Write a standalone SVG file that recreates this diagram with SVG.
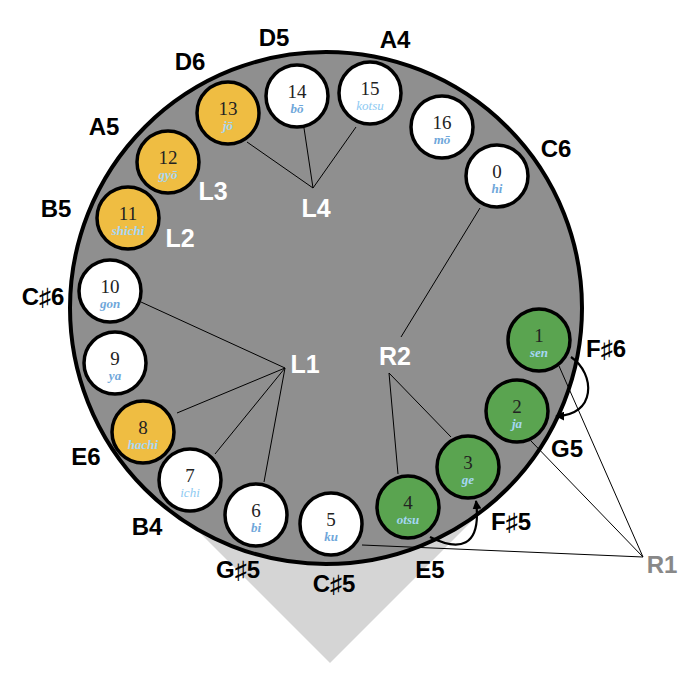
<svg xmlns="http://www.w3.org/2000/svg" width="700" height="680" viewBox="0 0 700 680">
<style>
.bg{fill:#ffffff}
.tri{fill:#d5d5d5}
.big{fill:#8f8f8f;stroke:#000;stroke-width:4}
.n circle{stroke:#000;stroke-width:3.5}
.w{fill:#ffffff}
.o{fill:#efbd42}
.g{fill:#5aa450}
.num{font-family:"Liberation Serif","Times New Roman",serif;font-size:19px;fill:#222;text-anchor:middle}
.rom{font-family:"Liberation Serif","Times New Roman",serif;font-size:13px;font-style:italic;font-weight:bold;fill:#6fa7da;text-anchor:middle}
.rl{fill:#8ecaf2;font-weight:normal}
.rc{fill:#a6d7f4}
.note{font-family:"Liberation Sans",Arial,"DejaVu Sans",sans-serif;font-size:24px;font-weight:bold;fill:#000;text-anchor:middle}
.lab{font-family:"Liberation Sans",Arial,"DejaVu Sans",sans-serif;font-size:25px;font-weight:bold;fill:#fff;text-anchor:middle}
.r1{fill:#888}
.c line,.c path{stroke:#000;stroke-width:1;fill:none}
.c .arc{stroke-width:2.2}
</style>
<defs>
<marker id="ah" viewBox="0 0 10 10" refX="9" refY="5" markerWidth="9" markerHeight="9" markerUnits="userSpaceOnUse" orient="auto">
<path d="M0,0 L10,5 L0,10 z" fill="#000"/>
</marker>
</defs>
<rect class="bg" x="0" y="0" width="700" height="680"/>
<polygon class="tri" points="185,518 330,663 475,518"/>
<circle class="big" cx="326" cy="308" r="256"/>

<g id="connectors" class="c">
<line x1="313" y1="188" x2="247" y2="142"/>
<line x1="313" y1="188" x2="304" y2="128"/>
<line x1="313" y1="188" x2="356" y2="127"/>
<line x1="285" y1="368" x2="141" y2="302"/>
<line x1="285" y1="368" x2="177" y2="413"/>
<line x1="285" y1="368" x2="215" y2="454"/>
<line x1="285" y1="368" x2="264" y2="482"/>
<line x1="401" y1="337" x2="480" y2="208"/>
<line x1="389" y1="373" x2="398" y2="474"/>
<line x1="389" y1="373" x2="451" y2="437"/>
<line x1="643" y1="557" x2="559" y2="366"/>
<line x1="643" y1="557" x2="531" y2="441"/>
<line x1="643" y1="557" x2="362" y2="545"/>
<path class="arc" d="M571,357 C596,374 596,416 556,416" marker-end="url(#ah)"/>
<path class="arc" d="M430,537 C458,551 482,549 476,501" marker-end="url(#ah)"/>
</g>

<g id="n0" class="n"><circle class="w" cx="497" cy="176" r="31"/><text class="num" x="497" y="178">0</text><text class="rom" x="497" y="193">hi</text></g>
<g id="n1" class="n"><circle class="g" cx="539" cy="340" r="31"/><text class="num" x="539" y="342">1</text><text class="rom rc" x="539" y="357">sen</text></g>
<g id="n2" class="n"><circle class="g" cx="517" cy="411" r="31"/><text class="num" x="517" y="413">2</text><text class="rom rc" x="517" y="428">ja</text></g>
<g id="n3" class="n"><circle class="g" cx="468" cy="467" r="31"/><text class="num" x="468" y="469">3</text><text class="rom rc" x="468" y="484">ge</text></g>
<g id="n4" class="n"><circle class="g" cx="408" cy="507" r="31"/><text class="num" x="408" y="509">4</text><text class="rom rc" x="408" y="524">otsu</text></g>
<g id="n5" class="n"><circle class="w" cx="331" cy="524" r="31"/><text class="num" x="331" y="526">5</text><text class="rom" x="331" y="541">ku</text></g>
<g id="n6" class="n"><circle class="w" cx="256" cy="515" r="31"/><text class="num" x="256" y="517">6</text><text class="rom" x="256" y="532">bi</text></g>
<g id="n7" class="n"><circle class="w" cx="190" cy="480" r="31"/><text class="num" x="190" y="482">7</text><text class="rom rl" x="190" y="497">ichi</text></g>
<g id="n8" class="n"><circle class="o" cx="143" cy="432" r="31"/><text class="num" x="143" y="434">8</text><text class="rom rc" x="143" y="449">hachi</text></g>
<g id="n9" class="n"><circle class="w" cx="115" cy="363" r="31"/><text class="num" x="115" y="365">9</text><text class="rom" x="115" y="380">ya</text></g>
<g id="n10" class="n"><circle class="w" cx="110" cy="291" r="31"/><text class="num" x="110" y="293">10</text><text class="rom" x="110" y="308">gon</text></g>
<g id="n11" class="n"><circle class="o" cx="128" cy="218" r="31"/><text class="num" x="128" y="220">11</text><text class="rom rc" x="128" y="235">shichi</text></g>
<g id="n12" class="n"><circle class="o" cx="168" cy="162" r="31"/><text class="num" x="168" y="164">12</text><text class="rom rc" x="168" y="179">gyō</text></g>
<g id="n13" class="n"><circle class="o" cx="228" cy="113" r="31"/><text class="num" x="228" y="115">13</text><text class="rom rc" x="228" y="130">jō</text></g>
<g id="n14" class="n"><circle class="w" cx="297" cy="96" r="31"/><text class="num" x="297" y="98">14</text><text class="rom" x="297" y="113">bō</text></g>
<g id="n15" class="n"><circle class="w" cx="370" cy="93" r="31"/><text class="num" x="370" y="95">15</text><text class="rom rl" x="370" y="110">kotsu</text></g>
<g id="n16" class="n"><circle class="w" cx="442" cy="127" r="31"/><text class="num" x="442" y="129">16</text><text class="rom" x="442" y="144">mō</text></g>

<g id="notes">
<text class="note" x="190" y="70">D6</text>
<text class="note" x="274" y="46">D5</text>
<text class="note" x="395" y="48">A4</text>
<text class="note" x="556" y="157">C6</text>
<text class="note" x="104" y="135">A5</text>
<text class="note" x="56" y="217">B5</text>
<text class="note" x="43" y="305">C♯6</text>
<text class="note" x="86" y="465">E6</text>
<text class="note" x="147" y="535">B4</text>
<text class="note" x="238" y="578">G♯5</text>
<text class="note" x="334" y="592">C♯5</text>
<text class="note" x="430" y="578">E5</text>
<text class="note" x="511" y="530">F♯5</text>
<text class="note" x="567" y="457">G5</text>
<text class="note" x="606" y="357">F♯6</text>
<text class="note r1" x="662" y="573">R1</text>
</g>
<g id="labels">
<text class="lab" x="213" y="200">L3</text>
<text class="lab" x="180" y="247">L2</text>
<text class="lab" x="316" y="217">L4</text>
<text class="lab" x="305" y="373">L1</text>
<text class="lab" x="395" y="365">R2</text>
</g>
</svg>
